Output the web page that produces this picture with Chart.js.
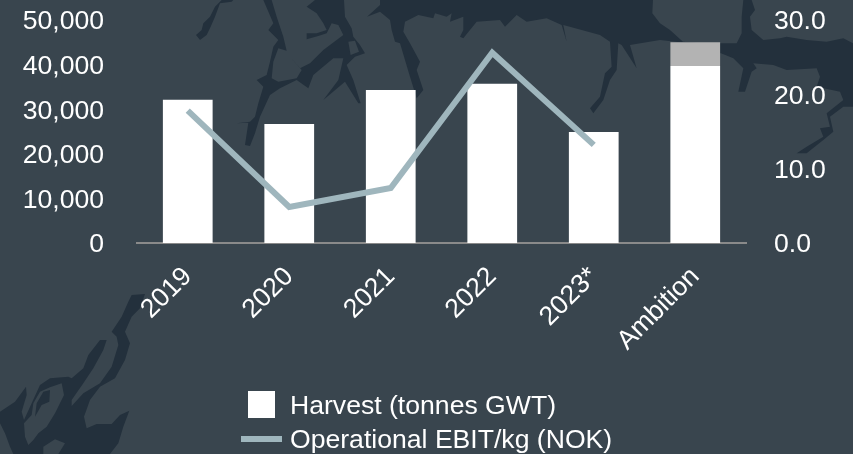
<!DOCTYPE html>
<html>
<head>
<meta charset="utf-8">
<style>
  html, body { margin: 0; padding: 0; background: #39454e; }
  #wrap { position: relative; width: 853px; height: 454px; overflow: hidden; font-family: "Liberation Sans", Arial, sans-serif; }
  #map { position: absolute; left: 0; top: 0; }
  #chart { position: absolute; left: 0; top: 0; }
  .legend-row { position: absolute; left: 290px; color: #fff; font-size: 26.6px; line-height: 28px; white-space: nowrap; }
  #box { position: absolute; left: 248px; top: 391px; width: 27px; height: 27px; background: #fff; }
  #dash { position: absolute; left: 241px; top: 436px; width: 41px; height: 6px; background: #9fb6bd; }
</style>
</head>
<body>
<div id="wrap">
  <!-- background map, decoration only -->
  <svg id="map" width="853" height="454" fill="#23303c">
    <g transform="translate(190,0) scale(0.3333)">
      <path d="M95 0L75 20L60 50L40 70L35 90L18 105L30 120L50 105L62 80L75 50L90 10L125 5L130 0Z"/>
      <path d="M220 0L245 0L260 50L280 110L290 152L265 145L250 185L245 235L265 245L320 235L335 210L300 170L330 205L360 190L400 150L460 105L445 75L425 70L410 100L385 108L350 118L350 100L380 100L410 90L400 70L380 40L350 20L375 0L462 0L465 50L485 85L490 110L510 135L525 160L495 170L470 195L490 240L512 310L505 310L465 245L400 300L445 240L460 175L430 175L370 225L355 265L320 240L270 265L240 285L210 350L195 400L180 438L165 435L175 368L140 370L180 365L195 350L205 310L220 260L200 240L230 225L240 185L250 140L265 120L235 90L250 70Z"/>
      <path d="M475 125L495 122L507 155L482 165Z" fill="#39454e"/>
    </g>
    <g transform="translate(400,0) scale(0.3333)">
      <path d="M-60 0L759 0L757 40L780 70L810 90L849 125L960 135L960 140L780 120L690 135L710 205L665 135L655 130L650 210L630 240L610 300L580 340L570 325L600 290L615 220L635 200L630 125L600 105L490 75L500 125L485 75L440 55L380 65L350 45L315 80L300 60L230 65L190 115L180 110L190 90L190 50L150 65L155 40L140 50L105 40L100 55L55 45L15 65L10 95L30 130L60 185L50 210L70 270L50 295L30 230L0 130L-15 125L-25 90L-30 60L-60 35L-99 50L-60 15Z"/>
    </g>
    <g transform="translate(640,0) scale(0.3333)">
      <path d="M200 130L290 130L305 100L305 50L310 0L335 0L345 30L330 50L335 90L370 120L420 115L440 110L500 120L560 125L610 115L639 130L639 320L610 320L570 350L580 395L550 420L500 460L470 460L500 440L550 410L540 385L570 380L560 340L610 300L600 275L530 260L540 230L530 205L440 210L400 195L340 190L350 205L335 215L315 275L295 275L310 205L280 175L243 160L200 160Z"/>
    </g>
    <g transform="translate(0,280) scale(0.3333)">
      <path d="M395 45L435 42L420 85L395 110L375 155L390 190L375 240L345 295L300 320L270 360L252 410L260 445L290 432L335 432L360 405L388 392L370 440L355 490L330 522L40 522L30 500L15 460L0 430L0 395L45 365L78 320L80 345L65 395L72 420L95 370L120 315L150 295L205 290L215 295L250 265L265 225L300 180L320 180L310 210L280 265L250 310L215 360L215 378L250 340L300 310L335 260L355 195L350 170L335 155L365 110L385 65Z"/>
      <path d="M150 322L185 310L192 345L165 400L140 440L115 460L100 480L85 495L75 470L72 430L95 405L100 370L120 335Z" fill="#39454e"/>
      <path d="M150 330L148 365L125 375L105 410L110 370L130 335Z"/>
      <path d="M130 500L165 478L195 490L175 522L130 522Z" fill="#39454e"/>
    </g>
  </svg>
  <canvas id="chart" width="853" height="454"></canvas>
  <div id="box"></div>
  <div class="legend-row" style="top: 391px;">Harvest (tonnes GWT)</div>
  <div id="dash"></div>
  <div class="legend-row" style="top: 425px;">Operational EBIT/kg (NOK)</div>
</div>

<script src="https://cdn.jsdelivr.net/npm/chart.js@4"></script>
<script>
const categories = ['2019', '2020', '2021', '2022', '2023*', 'Ambition'];
const harvest = [32100, 26700, 34300, 35700, 24900, 39700];
const harvestAmbition = [0, 0, 0, 0, 0, 5300];
const ebitPerKg = [17.8, 4.85, 7.4, 25.6, 13.2, null];

const chartFont = '"Liberation Sans", Arial, sans-serif';

// Render Harvest / EBIT combo chart
function renderChart() {
    const ctx = document.getElementById('chart').getContext('2d');
    new Chart(ctx, {
        data: {
            labels: categories,
            datasets: [
                {
                    type: 'line',
                    label: 'Operational EBIT/kg (NOK)',
                    data: ebitPerKg,
                    yAxisID: 'yRight',
                    borderColor: '#9fb6bd',
                    borderWidth: 6,
                    pointRadius: 0,
                    tension: 0,
                    borderJoinStyle: 'miter',
                    order: 0,
                },
                {
                    type: 'bar',
                    label: 'Harvest (tonnes GWT)',
                    data: harvest,
                    yAxisID: 'yLeft',
                    backgroundColor: '#ffffff',
                    barPercentage: 0.49,
                    categoryPercentage: 1,
                    stack: 'harvest',
                    order: 1,
                },
                {
                    type: 'bar',
                    label: 'Ambition',
                    data: harvestAmbition,
                    yAxisID: 'yLeft',
                    backgroundColor: '#b3b3b3',
                    barPercentage: 0.49,
                    categoryPercentage: 1,
                    stack: 'harvest',
                    order: 1,
                },
            ],
        },
        options: {
            responsive: false,
            animation: false,
            layout: { padding: { top: 20, left: 0, right: 0, bottom: 0 } },
            plugins: {
                legend: { display: false },
                tooltip: { enabled: false },
            },
            scales: {
                x: {
                    stacked: true,
                    grid: { display: false, drawTicks: false },
                    border: { color: '#8a8a8a', width: 2 },
                    ticks: {
                        color: '#fff',
                        font: { family: chartFont, size: 26.6 },
                        maxRotation: 45,
                        minRotation: 45,
                        padding: 18,
                    },
                    afterFit: (scale) => { scale.height = 211; scale.paddingLeft = 0; scale.paddingRight = 0; },
                },
                yLeft: {
                    type: 'linear',
                    position: 'left',
                    stacked: true,
                    min: 0,
                    max: 50000,
                    grid: { display: false, drawTicks: false },
                    border: { display: false },
                    ticks: {
                        stepSize: 10000,
                        color: '#fff',
                        font: { family: chartFont, size: 26.6 },
                        padding: 33,
                        labelOffset: 2,
                        callback: (v) => v.toLocaleString('en-US'),
                    },
                    afterFit: (scale) => { scale.width = 137; scale.paddingTop = 0; scale.paddingBottom = 0; },
                },
                yRight: {
                    type: 'linear',
                    position: 'right',
                    min: 0,
                    max: 30,
                    grid: { display: false, drawTicks: false },
                    border: { display: false },
                    ticks: {
                        stepSize: 10,
                        color: '#fff',
                        font: { family: chartFont, size: 26.6 },
                        padding: 28,
                        labelOffset: 2,
                        callback: (v) => v.toFixed(1),
                    },
                    afterFit: (scale) => { scale.width = 107; scale.paddingTop = 0; scale.paddingBottom = 0; },
                },
            },
        },
    });
}

// Run
renderChart();
</script>
</body>
</html>
